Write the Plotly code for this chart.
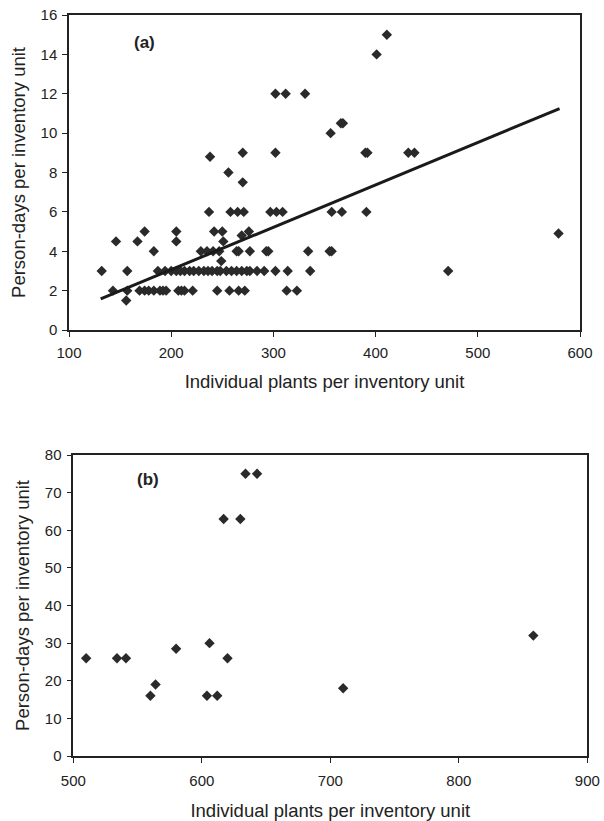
import plotly.graph_objects as go

# ---------------- Panel (a) data ----------------
x_a = [156,
       143, 157, 169, 174, 178, 183, 189, 192, 195, 207, 210, 213, 221, 245, 257, 266, 272, 313, 323,
       132, 157, 187, 194, 200, 205, 209, 213, 218, 222, 227, 232, 236, 240, 245, 248, 254, 259, 264,
       269, 274, 277, 284, 291, 302, 314, 336, 471,
       249,
       183, 229, 235, 241, 247, 264, 266, 277, 293, 295, 334, 355, 357,
       146, 167, 205, 251,
       269,
       174, 205, 242, 250, 276,
       237, 258, 265, 271, 297, 303, 309, 357, 367, 391,
       270, 256, 238,
       270, 302, 390, 392, 432, 438,
       356, 366, 368,
       302, 312, 331,
       401, 411, 579]
y_a = [1.5,
       2, 2, 2, 2, 2, 2, 2, 2, 2, 2, 2, 2, 2, 2, 2, 2, 2, 2, 2,
       3, 3, 3, 3, 3, 3, 3, 3, 3, 3, 3, 3, 3, 3, 3, 3, 3, 3, 3,
       3, 3, 3, 3, 3, 3, 3, 3, 3,
       3.5,
       4, 4, 4, 4, 4, 4, 4, 4, 4, 4, 4, 4, 4,
       4.5, 4.5, 4.5, 4.5,
       4.8,
       5, 5, 5, 5, 5,
       6, 6, 6, 6, 6, 6, 6, 6, 6, 6,
       7.5, 8, 8.8,
       9, 9, 9, 9, 9, 9,
       10, 10.5, 10.5,
       12, 12, 12,
       14, 15, 4.9]

trend_x = [131, 580]
trend_y = [1.58, 11.25]

# ---------------- Panel (b) data ----------------
x_b = [510, 534, 541, 560, 564, 580, 604, 606, 612, 620, 617, 630, 634, 643, 710, 858]
y_b = [26, 26, 26, 16, 19, 28.5, 16, 30, 16, 26, 63, 63, 75, 75, 18, 32]

ticks_ax = [100, 200, 300, 400, 500, 600]
ticks_ay = [0, 2, 4, 6, 8, 10, 12, 14, 16]
ticks_bx = [500, 600, 700, 800, 900]
ticks_by = [0, 10, 20, 30, 40, 50, 60, 70, 80]

xtitle = "Individual plants per inventory unit"
ytitle = "Person-days per inventory unit"

FONT = "Liberation Sans, Arial, sans-serif"
INK = "#222222"
MK = dict(symbol="diamond", size=8, color="#2a2a2a", line=dict(width=0))

fig = go.Figure()
fig.add_trace(go.Scatter(x=x_a, y=y_a, mode="markers", marker=MK,
                         xaxis="x", yaxis="y", showlegend=False))
fig.add_trace(go.Scatter(x=trend_x, y=trend_y, mode="lines",
                         line=dict(color="#1a1a1a", width=3),
                         xaxis="x", yaxis="y", showlegend=False))
fig.add_trace(go.Scatter(x=x_b, y=y_b, mode="markers", marker=MK,
                         xaxis="x2", yaxis="y2", showlegend=False))

W, H = 604, 821

def ax(domain, rng, tickvals, title, anchor, standoff, lblpad):
    return dict(domain=domain, range=rng, tickvals=tickvals, anchor=anchor,
                showgrid=False, zeroline=False, showline=True, mirror=True,
                linecolor=INK, linewidth=1.5, ticks="outside", ticklen=5,
                tickwidth=1.2, tickcolor=INK, ticklabelstandoff=lblpad,
                tickfont=dict(family=FONT, size=15, color=INK),
                title=dict(text=title, font=dict(family=FONT, size=18.5, color=INK),
                           standoff=standoff),
                automargin=False, fixedrange=True)

fig.update_layout(
    width=W, height=H,
    margin=dict(l=0, r=0, t=0, b=0),
    paper_bgcolor="white", plot_bgcolor="white",
    xaxis=ax([69 / W, 580 / W], [100, 600], ticks_ax, xtitle, "y", 15, 3),
    yaxis=ax([1 - 330 / H, 1 - 15 / H], [0, 16], ticks_ay, ytitle, "x", 10, 2),
    xaxis2=ax([73.3 / W, 587.3 / W], [500, 900], ticks_bx, xtitle, "y2", 17, 5),
    yaxis2=ax([1 - 756 / H, 1 - 455 / H], [0, 80], ticks_by, ytitle, "x2", 10, 2),
    annotations=[
        dict(x=174, y=14.6, xref="x", yref="y", text="<b>(a)</b>", showarrow=False,
             font=dict(family=FONT, size=17, color=INK)),
        dict(x=558, y=73.5, xref="x2", yref="y2", text="<b>(b)</b>", showarrow=False,
             font=dict(family=FONT, size=17, color=INK)),
    ],
)

fig.write_html(
    "out.html",
    config={"displayModeBar": False},
    post_script="document.body.style.margin='0';document.body.style.overflow='hidden';",
)
